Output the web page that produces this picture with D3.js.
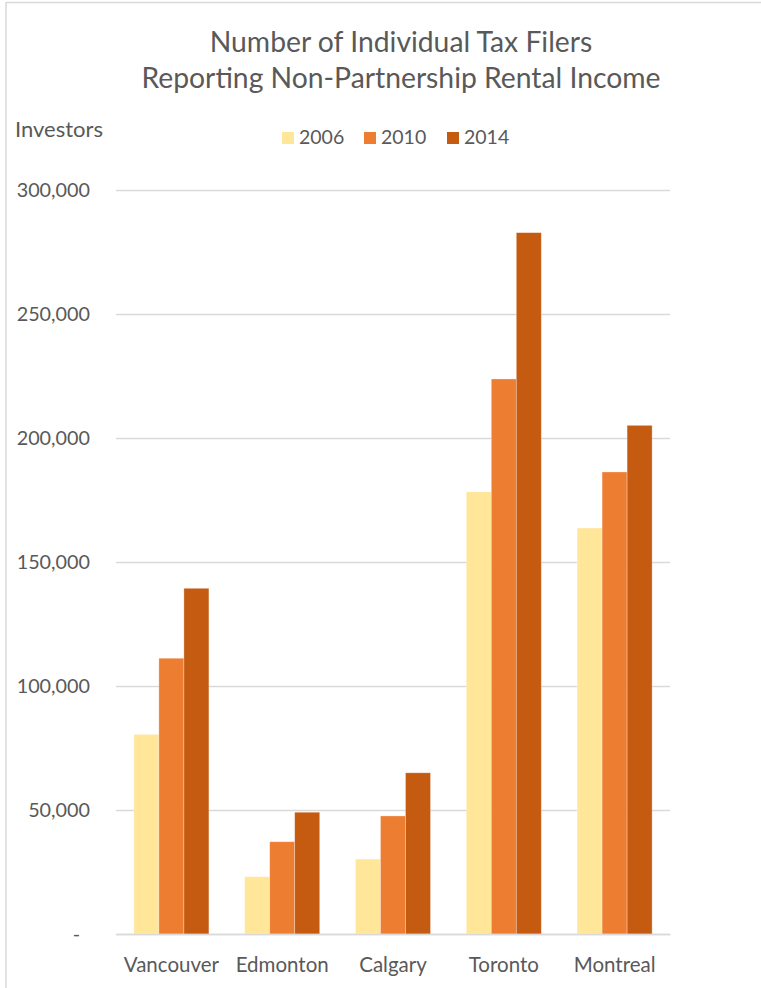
<!DOCTYPE html>
<html>
<head>
<meta charset="utf-8">
<script src="https://cdn.jsdelivr.net/npm/d3@7"></script>
<style>
  html, body { margin: 0; padding: 0; background: #fff; }
  svg { display: block; font-family: Lato, "Open Sans", sans-serif; }
</style>
</head>
<body>
<svg id="chart" width="761" height="988"></svg>
<script>
// Cities and tax-filer counts per year
const cities = ["Vancouver", "Edmonton", "Calgary", "Toronto", "Montreal"];
const years = ["2006", "2010", "2014"];
const filers2006 = [80500, 23100, 30200, 178300, 163700];
const filers2010 = [111200, 37200, 47600, 223800, 186300];
const filers2014 = [139400, 49100, 65000, 282800, 205100];
const yTicks = [0, 50000, 100000, 150000, 200000, 250000, 300000];
const colors = ["#FFE699", "#ED7D31", "#C55A11"];

const series = [filers2006, filers2010, filers2014];

const svg = d3.select("#chart");
const W = 761, H = 988;
const margin = { left: 116, right: 91, top: 190, bottom: 54 };
const plotRight = W - margin.right;
const plotBottom = H - margin.bottom;
const textColor = "#595959";

// Chart frame (top and left edges)
svg.append("line").attr("x1", 6).attr("x2", W).attr("y1", 2.5).attr("y2", 2.5)
  .attr("stroke", "#d9d9d9").attr("stroke-width", 1.5);
svg.append("line").attr("x1", 6).attr("x2", 6).attr("y1", 2).attr("y2", H)
  .attr("stroke", "#d9d9d9").attr("stroke-width", 1.5);

const x0 = d3.scaleBand().domain(cities)
  .range([margin.left, plotRight]).paddingInner(0.323).paddingOuter(0.1615);
const x1 = d3.scaleBand().domain(years).range([0, x0.bandwidth()]);
const y = d3.scaleLinear().domain([0, 300000]).range([plotBottom, margin.top]);

// Gridlines
svg.append("g")
  .attr("transform", `translate(${margin.left},0)`)
  .call(d3.axisLeft(y).tickValues(yTicks).tickSize(-(plotRight - margin.left)).tickFormat(""))
  .call(g => g.select(".domain").remove())
  .call(g => g.selectAll(".tick line").attr("stroke", "#d9d9d9").attr("stroke-width", 1.5));

// Y tick labels
svg.append("g")
  .attr("transform", `translate(90,0)`)
  .call(d3.axisLeft(y).tickValues(yTicks).tickSize(0).tickPadding(0)
    .tickFormat(d => d === 0 ? "-" : d3.format(",")(d)))
  .call(g => g.select(".domain").remove())
  .call(g => g.selectAll("text")
    .attr("fill", textColor).attr("font-size", 19.8).attr("font-family", "Lato, sans-serif")
    .attr("dx", d => d === 0 ? -10 : 0));

// Bars
const groups = svg.append("g").selectAll("g")
  .data(cities).join("g")
  .attr("transform", d => `translate(${x0(d)},0)`);

groups.selectAll("rect")
  .data((c, i) => years.map((yr, k) => ({ yr, k, v: series[k][i] })))
  .join("rect")
  .attr("x", d => x1(d.yr))
  .attr("width", x1.bandwidth())
  .attr("y", d => y(d.v))
  .attr("height", d => plotBottom - y(d.v))
  .attr("fill", d => colors[d.k])
  .attr("stroke", "#ffffff").attr("stroke-opacity", 0.4).attr("stroke-width", 0.75);

// Category axis
svg.append("g")
  .attr("transform", `translate(0,${plotBottom})`)
  .call(d3.axisBottom(x0).tickSize(0).tickPadding(23))
  .call(g => g.select(".domain").attr("stroke", "#d9d9d9").attr("stroke-width", 1.5))
  .call(g => g.selectAll("text")
    .attr("fill", textColor).attr("font-size", 20.5).attr("font-family", "Lato, sans-serif"));

// Title
const title = svg.append("text")
  .attr("text-anchor", "middle").attr("fill", textColor)
  .attr("font-size", 28.3).attr("font-family", "Lato, sans-serif");
title.append("tspan").attr("x", 401).attr("y", 52).text("Number of Individual Tax Filers");
title.append("tspan").attr("x", 401).attr("y", 88).text("Reporting Non-Partnership Rental Income");

// Axis title
svg.append("text").attr("x", 15).attr("y", 137)
  .attr("fill", textColor).attr("font-size", 22).attr("font-family", "Lato, sans-serif")
  .text("Investors");

// Legend
const legendX = [282, 364, 447];
const legend = svg.append("g").selectAll("g").data(years).join("g")
  .attr("transform", (d, i) => `translate(${legendX[i]},132)`);
legend.append("rect").attr("width", 12).attr("height", 12)
  .attr("fill", (d, i) => colors[i]);
legend.append("text").attr("x", 17).attr("y", 12)
  .attr("fill", textColor).attr("font-size", 19.5).attr("font-family", "Lato, sans-serif")
  .text(d => d);
</script>
</body>
</html>
